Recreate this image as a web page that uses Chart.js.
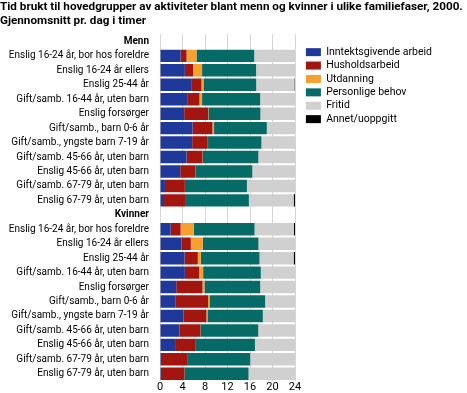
<!DOCTYPE html>
<html>
<head>
<meta charset="utf-8">
<script src="https://cdn.jsdelivr.net/npm/chart.js@4.4.1/dist/chart.umd.min.js"></script>
<style>
  html, body { margin: 0; padding: 0; background: #fff; }
  #wrap { width: 467px; height: 393px; }
</style>
</head>
<body>
<div id="wrap"><canvas id="chart"></canvas></div>
<script>
// Familiefaser (same list for men and women)
const groups = [
    'Enslig 16-24 år, bor hos foreldre',
    'Enslig 16-24 år ellers',
    'Enslig 25-44 år',
    'Gift/samb. 16-44 år, uten barn',
    'Enslig forsørger',
    'Gift/samb., barn 0-6 år',
    'Gift/samb., yngste barn 7-19 år',
    'Gift/samb. 45-66 år, uten barn',
    'Enslig 45-66 år, uten barn',
    'Gift/samb. 67-79 år, uten barn',
    'Enslig 67-79 år, uten barn'
];

const xTicks = [0, 4, 8, 12, 16, 20, 24];

// Menn, timer per dag
const menWork     = [3.66, 4.42, 5.54, 4.83, 4.30, 5.78, 5.72, 4.72, 3.60, 0.88, 0.71];
const menHouse    = [1.06, 1.47, 1.83, 2.18, 4.25, 3.54, 2.77, 2.83, 2.65, 3.54, 3.89];
const menEdu      = [1.77, 1.59, 0.35, 0.47, 0.05, 0.29, 0.05, 0.03, 0.02, 0, 0];
const menPersonal = [10.26, 9.61, 9.38, 10.32, 9.25, 9.38, 9.49, 9.90, 10.14, 11.03, 11.20];
const menFree     = [7.25, 6.91, 6.80, 6.20, 6.15, 5.01, 5.97, 6.52, 7.59, 8.55, 7.96];
const menOther    = [0, 0, 0.10, 0, 0, 0, 0, 0, 0, 0, 0.24];

// Kvinner, timer per dag
const womenWork     = [1.89, 3.83, 4.36, 4.42, 2.89, 2.71, 4.19, 3.48, 2.83, 0.18, 0.18];
const womenHouse    = [1.77, 1.65, 2.36, 2.54, 4.66, 5.84, 4.06, 3.71, 3.54, 4.65, 4.18];
const womenEdu      = [2.36, 2.12, 0.53, 0.71, 0.35, 0.24, 0.18, 0.02, 0.02, 0, 0];
const womenPersonal = [10.79, 9.90, 10.44, 10.25, 9.91, 9.90, 9.85, 10.26, 10.49, 11.21, 11.38];
const womenFree     = [6.99, 6.50, 6.07, 6.08, 6.19, 5.31, 5.72, 6.53, 7.12, 7.96, 8.26];
const womenOther    = [0.20, 0, 0.24, 0, 0, 0, 0, 0, 0, 0, 0];

const labels = ['Menn', ...groups, 'Kvinner', ...groups];
const rows = (m, w) => [null, ...m, null, ...w];

const series = [
    { label: 'Inntektsgivende arbeid', data: rows(menWork, womenWork), color: '#1f399b' },
    { label: 'Husholdsarbeid', data: rows(menHouse, womenHouse), color: '#a3150f' },
    { label: 'Utdanning', data: rows(menEdu, womenEdu), color: '#f8a02e' },
    { label: 'Personlige behov', data: rows(menPersonal, womenPersonal), color: '#066b66' },
    { label: 'Fritid', data: rows(menFree, womenFree), color: '#d0d0d0' },
    { label: 'Annet/uoppgitt', data: rows(menOther, womenOther), color: '#000000' }
];

const FONT = "Roboto, 'Liberation Sans', sans-serif";

// fixed legend width (keeps plot right edge at 24 = x 295), then put the legend where the original has it
const legendSpot = {
    id: 'legendSpot',
    beforeLayout(chart) {
        const lg = chart.legend;
        if (lg && !lg._fixed) {
            const fit = lg.fit.bind(lg);
            lg.fit = function () { fit(); this.width = 172; };
            lg._fixed = true;
        }
    },
    afterLayout(chart) {
        const lg = chart.legend;
        lg.left = 303;
        lg.right = 467;
        lg.top = 44;
        lg.bottom = 160;
    }
};

new Chart(document.getElementById('chart'), {
    type: 'bar',
    data: {
        labels: labels,
        datasets: series.map(s => ({
            label: s.label,
            data: s.data,
            backgroundColor: s.color,
            borderColor: s.color,
            borderWidth: 0,
            barPercentage: 0.86,
            categoryPercentage: 1
        }))
    },
    options: {
        indexAxis: 'y',
        responsive: true,
        maintainAspectRatio: false,
        animation: false,
        layout: { padding: 0 },
        plugins: {
            title: {
                display: true,
                align: 'start',
                text: [
                    'Tid brukt til hovedgrupper av aktiviteter blant menn og kvinner i ulike familiefaser, 2000.',
                    'Gjennomsnitt pr. dag i timer'
                ],
                color: '#000',
                font: { family: FONT, size: 11.7, weight: 'bold', lineHeight: 1.12 },
                padding: { top: 1, bottom: 7 }
            },
            legend: {
                position: 'right',
                align: 'start',
                labels: {
                    boxWidth: 15,
                    boxHeight: 8,
                    padding: 2.9,
                    color: '#000',
                    font: { family: FONT, size: 10.5 }
                }
            },
            tooltip: { enabled: false }
        },
        scales: {
            x: {
                stacked: true,
                min: 0,
                max: 24,
                afterBuildTicks: scale => { scale.ticks = xTicks.map(v => ({ value: v })); },
                afterFit: scale => { scale.height = 12; },
                grid: { color: '#d6d6d6', drawTicks: false },
                border: { display: false },
                ticks: { color: '#000', padding: 0, font: { family: FONT, size: 11 } }
            },
            y: {
                stacked: true,
                afterFit: scale => { scale.width = 160; },
                grid: { display: false },
                border: { display: false },
                ticks: {
                    color: '#000',
                    padding: 3,
                    autoSkip: false,
                    font: ctx => ({
                        family: FONT,
                        size: 10,
                        weight: (ctx.index === 0 || ctx.index === 12) ? 'bold' : 'normal'
                    })
                }
            }
        }
    },
    plugins: [legendSpot]
});
</script>
</body>
</html>
